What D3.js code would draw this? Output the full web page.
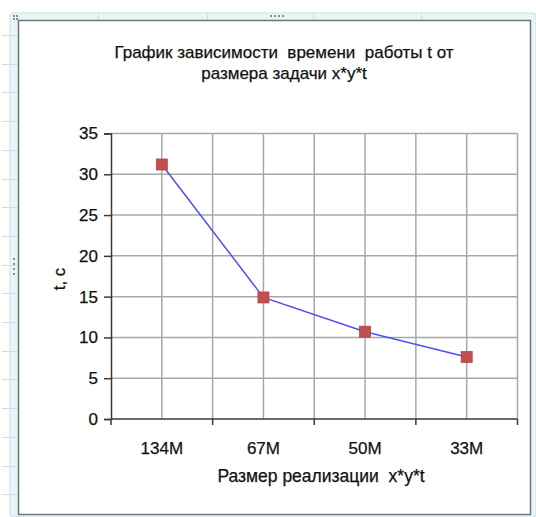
<!DOCTYPE html>
<html>
<head>
<meta charset="utf-8">
<script src="https://cdn.jsdelivr.net/npm/d3@7"></script>
<style>
  html, body { margin: 0; padding: 0; background: #ffffff; }
  svg { display: block; }
  text { font-family: "Liberation Sans", Arial, sans-serif; fill: #111111; stroke: #111111; stroke-width: 0.25; }
</style>
</head>
<body>
<svg id="chart" width="536" height="517"></svg>
<script>
// Problem sizes and measured run times
const categories = ["134M", "67M", "50M", "33M"];
const timeValues = [31.2, 14.9, 10.7, 7.6];
const yTicks = [0, 5, 10, 15, 20, 25, 30, 35];
const titleLines = ["График зависимости  времени  работы t от", "размера задачи x*y*t"];
const xTitle = "Размер реализации  x*y*t";
const yTitle = "t, c";

const svg = d3.select("#chart");
const W = 536, H = 517;

// Spreadsheet surroundings: faint cell grid and the selected-object frame
const sheet = svg.append("g");
sheet.append("rect").attr("x", 10).attr("y", 13).attr("width", W - 10).attr("height", H - 13)
  .attr("fill", "#e9f6f8").attr("stroke", "#c9dfe3").attr("stroke-width", 1).attr("rx", 3);
[98, 207, 313, 421].forEach(x => sheet.append("line")
  .attr("x1", x + 0.5).attr("x2", x + 0.5).attr("y1", 13).attr("y2", 20)
  .attr("stroke", "#cfe0e3"));
d3.range(35, 510, 28.7).forEach(y => sheet.append("line")
  .attr("x1", 2).attr("x2", 18).attr("y1", Math.round(y) + 0.5).attr("y2", Math.round(y) + 0.5)
  .attr("stroke", "#cfe0e3"));
sheet.append("rect").attr("x", 18.5).attr("y", 20.5).attr("width", 512).attr("height", 494)
  .attr("fill", "#ffffff").attr("stroke", "#6f7579").attr("stroke-width", 1.5);
// frame handles
const dots = [[14, 16], [17, 16], [14, 19], [17, 19],
  [271, 16], [275, 16], [279, 16], [283, 16],
  [14, 259], [14, 264], [14, 269], [14, 274]];
sheet.selectAll("rect.h").data(dots).enter().append("rect").attr("class", "h")
  .attr("x", d => d[0] - 1).attr("y", d => d[1] - 1).attr("width", 2).attr("height", 2)
  .attr("fill", "#8a8f93");

// Plot area
const plot = { left: 111, right: 517.5, top: 133.5, bottom: 419 };
const x = d3.scaleBand().domain(categories).range([plot.left, plot.right]).paddingInner(0).paddingOuter(0);
const y = d3.scaleLinear().domain([0, 35]).range([plot.bottom, plot.top]);

const grid = svg.append("g");
// horizontal gridlines
grid.selectAll("line.hy").data(yTicks.filter(v => v > 0)).enter().append("line")
  .attr("x1", plot.left).attr("x2", plot.right)
  .attr("y1", d => y(d)).attr("y2", d => y(d))
  .attr("stroke", "#a8a8a8").attr("stroke-width", 1.5);
// vertical gridlines at category centres and boundaries
const vLines = [];
categories.forEach(c => { vLines.push(x(c) + x.bandwidth() / 2); vLines.push(x(c) + x.bandwidth()); });
grid.selectAll("line.vx").data(vLines).enter().append("line")
  .attr("x1", d => d).attr("x2", d => d)
  .attr("y1", plot.top).attr("y2", plot.bottom)
  .attr("stroke", "#a8a8a8").attr("stroke-width", 1.5);

// y axis
const yAxis = d3.axisLeft(y).tickValues(yTicks).tickSize(7).tickPadding(6);
const gy = svg.append("g").attr("transform", `translate(${plot.left},0)`).call(yAxis);
gy.select(".domain").attr("stroke", "#3a3a3a").attr("stroke-width", 1.5);
gy.selectAll(".tick line").attr("stroke", "#3a3a3a").attr("stroke-width", 1.5);
gy.selectAll(".tick text").attr("font-size", 17).attr("fill", "#111111")
  .attr("font-family", "Liberation Sans, Arial, sans-serif");

// x axis: ticks on category boundaries, labels at centres
const boundaries = [plot.left].concat(categories.map(c => x(c) + x.bandwidth()));
const gx = svg.append("g");
gx.append("line").attr("x1", plot.left).attr("x2", plot.right)
  .attr("y1", plot.bottom).attr("y2", plot.bottom)
  .attr("stroke", "#3a3a3a").attr("stroke-width", 1.5);
gx.selectAll("line.t").data(boundaries).enter().append("line")
  .attr("x1", d => d).attr("x2", d => d)
  .attr("y1", plot.bottom).attr("y2", plot.bottom + 6)
  .attr("stroke", "#3a3a3a").attr("stroke-width", 1.5);
gx.selectAll("text").data(categories).enter().append("text")
  .attr("x", d => x(d) + x.bandwidth() / 2).attr("y", 454)
  .attr("text-anchor", "middle").attr("font-size", 17).text(d => d);

// series line and markers
const pts = categories.map((c, i) => [x(c) + x.bandwidth() / 2, y(timeValues[i])]);
svg.append("path").datum(pts)
  .attr("d", d3.line())
  .attr("fill", "none").attr("stroke", "#4f4ff5").attr("stroke-width", 1.5);
const ms = 11;
svg.selectAll("rect.m").data(pts).enter().append("rect").attr("class", "m")
  .attr("x", d => d[0] - ms / 2).attr("y", d => d[1] - ms / 2)
  .attr("width", ms).attr("height", ms)
  .attr("fill", "#c0504d").attr("stroke", "#b8413d").attr("stroke-width", 0.8);

// titles
svg.selectAll("text.title").data(titleLines).enter().append("text").attr("class", "title")
  .attr("x", 284).attr("y", (d, i) => 58 + i * 21)
  .attr("text-anchor", "middle").attr("font-size", 17).attr("xml:space", "preserve")
  .text(d => d);
svg.append("text").attr("x", 321).attr("y", 482).attr("text-anchor", "middle")
  .attr("font-size", 17.5).attr("xml:space", "preserve").text(xTitle);
svg.append("text").attr("transform", "translate(65,279) rotate(-90)")
  .attr("text-anchor", "middle").attr("font-size", 17).text(yTitle);
</script>
</body>
</html>
